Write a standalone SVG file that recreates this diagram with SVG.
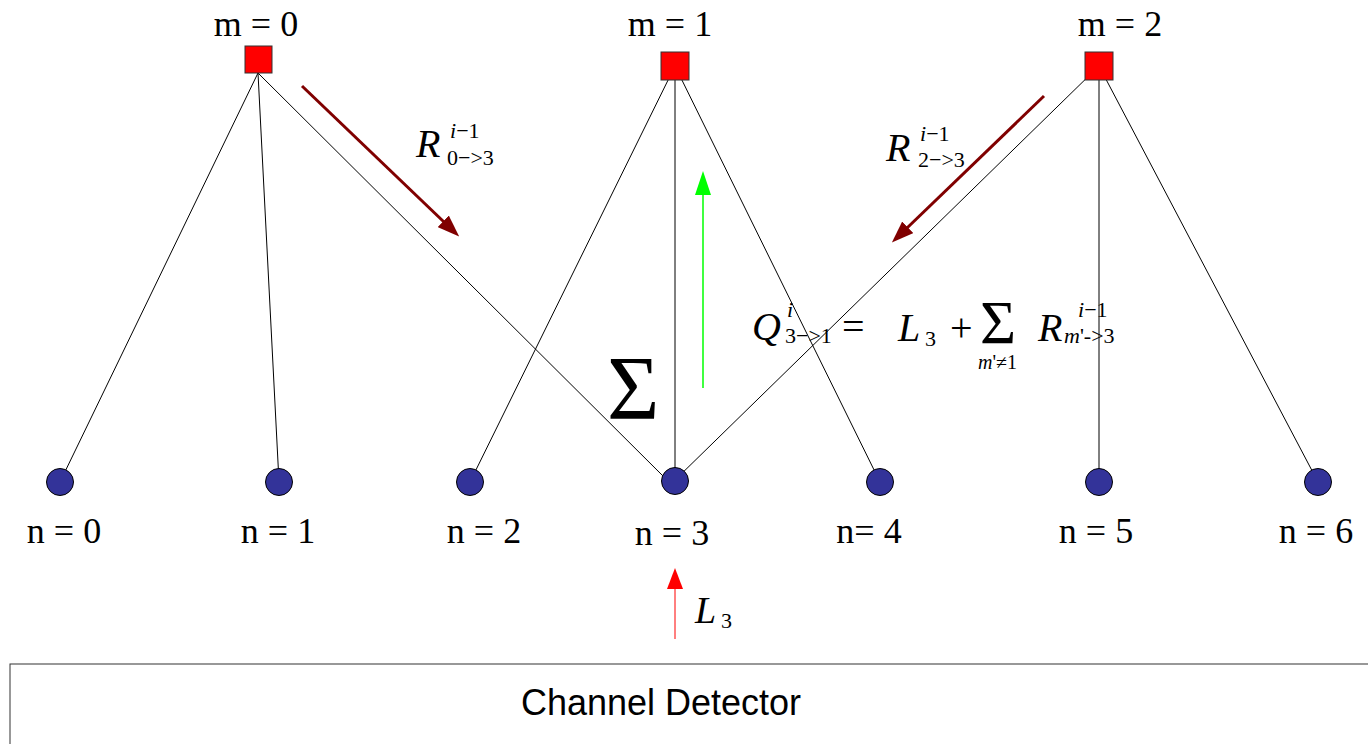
<svg xmlns="http://www.w3.org/2000/svg" width="1368" height="744" viewBox="0 0 1368 744">
<style>
.edge{stroke:#000;stroke-width:1;fill:none}
.chk{fill:#ff0000;stroke:#333;stroke-width:1}
.var{fill:#333399;stroke:#000;stroke-width:1}
.lbl{font-family:"Liberation Serif","Times New Roman",serif;font-size:36px;fill:#000}
.it{font-family:"Liberation Serif","Times New Roman",serif;font-style:italic;fill:#000}
.rm{font-family:"Liberation Serif","Times New Roman",serif;font-style:normal;fill:#000}
.msg{stroke:#800000;stroke-width:3;fill:none}
</style>
<defs>
<marker id="hDark" markerUnits="userSpaceOnUse" markerWidth="22" markerHeight="16" refX="1" refY="8" orient="auto"><path d="M0,0 L22,8 L0,16 z" fill="#800000"/></marker>
<marker id="hGreen" markerUnits="userSpaceOnUse" markerWidth="24" markerHeight="16" refX="1" refY="8" orient="auto"><path d="M0,0 L24,8 L0,16 z" fill="#00ff00"/></marker>
<marker id="hRed" markerUnits="userSpaceOnUse" markerWidth="21" markerHeight="16" refX="1" refY="8" orient="auto"><path d="M0,0 L21,8 L0,16 z" fill="#ff0000"/></marker>
</defs>
<rect width="1368" height="744" fill="#fff"/>
<g id="connectors">
<line class="edge" x1="258" y1="73" x2="60" y2="482"/>
<line class="edge" x1="258" y1="73" x2="279" y2="482"/>
<line class="edge" x1="258" y1="73" x2="665" y2="478"/>
<line class="edge" x1="675" y1="66" x2="470" y2="482"/>
<line class="edge" x1="675" y1="66" x2="675" y2="482"/>
<line class="edge" x1="675" y1="66" x2="880" y2="482"/>
<line class="edge" x1="1099" y1="66" x2="673" y2="482"/>
<line class="edge" x1="1099" y1="66" x2="1099" y2="482"/>
<line class="edge" x1="1099" y1="66" x2="1318" y2="482"/>
<line class="msg" x1="302" y1="86" x2="444" y2="222" marker-end="url(#hDark)"/>
<line class="msg" x1="1044" y1="96" x2="907" y2="228" marker-end="url(#hDark)"/>
<line x1="703" y1="388" x2="703" y2="194" stroke="#00ff00" stroke-width="1.5" marker-end="url(#hGreen)"/>
<line x1="675" y1="639" x2="675" y2="588" stroke="#ff0000" stroke-width="1" marker-end="url(#hRed)"/>
</g>
<g id="m0"><rect class="chk" x="245" y="46" width="27" height="27"/><text class="lbl" x="256" y="36" text-anchor="middle">m = 0</text></g>
<g id="m1"><rect class="chk" x="661" y="52" width="28" height="28"/><text class="lbl" x="670" y="36" text-anchor="middle">m = 1</text></g>
<g id="m2"><rect class="chk" x="1085" y="52" width="28" height="28"/><text class="lbl" x="1120" y="36" text-anchor="middle">m = 2</text></g>
<g id="n0"><circle class="var" cx="60" cy="482" r="13.5"/><text class="lbl" x="64" y="543" text-anchor="middle">n = 0</text></g>
<g id="n1"><circle class="var" cx="279" cy="482" r="13.5"/><text class="lbl" x="278" y="543" text-anchor="middle">n = 1</text></g>
<g id="n2"><circle class="var" cx="470" cy="482" r="13.5"/><text class="lbl" x="484" y="543" text-anchor="middle">n = 2</text></g>
<g id="n3"><circle class="var" cx="675" cy="481" r="13.5"/><text class="lbl" x="672" y="545" text-anchor="middle">n = 3</text></g>
<g id="n4"><circle class="var" cx="880" cy="482" r="13.5"/><text class="lbl" x="869" y="543" text-anchor="middle">n= 4</text></g>
<g id="n5"><circle class="var" cx="1099" cy="482" r="13.5"/><text class="lbl" x="1096" y="543" text-anchor="middle">n = 5</text></g>
<g id="n6"><circle class="var" cx="1318" cy="482" r="13.5"/><text class="lbl" x="1316" y="543" text-anchor="middle">n = 6</text></g>
<g id="label-R03">
<text class="it" x="416" y="157" font-size="40">R</text>
<text class="it" x="450" y="138" font-size="22">i<tspan class="rm">−1</tspan></text>
<text class="rm" x="447" y="165" font-size="22">0−&gt;3</text>
</g>
<g id="label-R23">
<text class="it" x="886" y="161" font-size="40">R</text>
<text class="it" x="920" y="141" font-size="22">i<tspan class="rm">−1</tspan></text>
<text class="rm" x="918" y="167" font-size="22">2−&gt;3</text>
</g>
<g id="formula">
<text class="it" x="752" y="340" font-size="40">Q</text>
<text class="it" x="787" y="317" font-size="22">i</text>
<text class="rm" x="785" y="343" font-size="22">3−&gt;1</text>
<text class="rm" x="842" y="340" font-size="40">=</text>
<text class="it" x="898" y="341" font-size="40">L</text>
<text class="rm" x="925" y="346" font-size="22">3</text>
<text class="rm" x="950" y="341" font-size="40">+</text>
<text class="rm" x="980" y="343" font-size="62">Σ</text>
<text class="it" x="978" y="369" font-size="20">m<tspan class="rm">'≠1</tspan></text>
<text class="it" x="1038" y="341" font-size="40">R</text>
<text class="it" x="1078" y="317" font-size="22">i<tspan class="rm">−1</tspan></text>
<text class="it" x="1064" y="343" font-size="22">m<tspan class="rm">'-&gt;3</tspan></text>
</g>
<g id="sigma"><text class="rm" x="607" y="419" font-size="90">Σ</text></g>
<g id="label-L3">
<text class="it" x="695" y="623" font-size="38">L</text>
<text class="rm" x="721" y="628" font-size="22">3</text>
</g>
<g id="detector">
<rect x="10" y="664" width="1370" height="100" fill="#fff" stroke="#333" stroke-width="1"/>
<text x="661" y="715" text-anchor="middle" font-family="'Liberation Sans',Arial,sans-serif" font-size="36" fill="#000">Channel Detector</text>
</g>
</svg>
